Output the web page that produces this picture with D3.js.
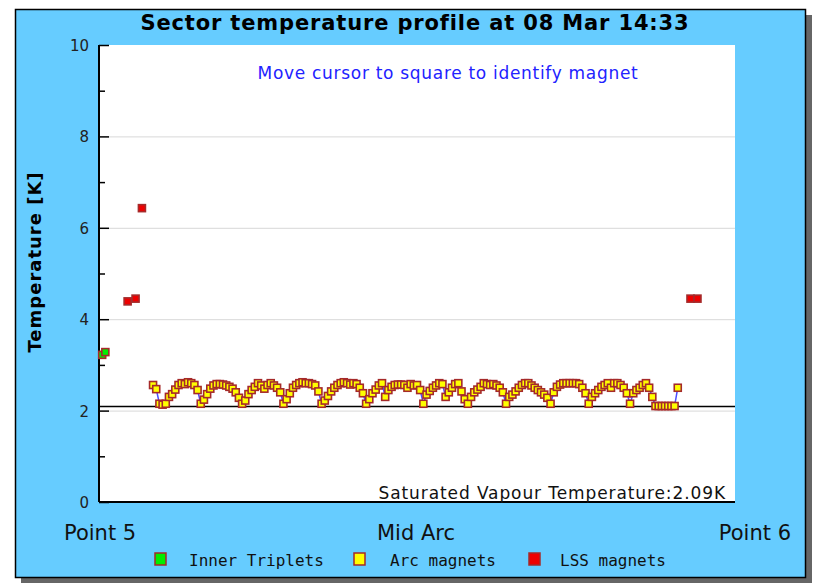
<!DOCTYPE html>
<html>
<head>
<meta charset="utf-8">
<script src="https://cdn.jsdelivr.net/npm/d3@7"></script>
<style>
body { margin: 0; background: #fff; }
</style>
</head>
<body>
<script>
// chart values
var title = 'Sector temperature profile at 08 Mar 14:33'
var y_ticks = [0, 2, 4, 6, 8, 10]
var sat_temp = 2.09
var x_labels = ['Point 5', 'Mid Arc', 'Point 6']
var legend_names = ['Inner Triplets', 'Arc magnets', 'LSS magnets']

// magnet slot positions along the sector and their temperatures [K]
var triplet_pos = [1, 2]
var triplet_temp = [3.22, 3.28]
var lss_pos = [9, 11.5, 13.5, 186, 188.2]
var lss_temp = [4.39, 4.45, 6.43, 4.45, 4.45]
var arc_first_slot = 17
var arc_temp = [
	2.56,2.47,2.15,2.13,2.15,2.3,2.36,2.46,2.56,2.6,2.58,2.62,2.6,2.56,2.45,2.15,
	2.24,2.36,2.48,2.55,2.58,2.58,2.57,2.55,2.52,2.48,2.4,2.28,2.15,
	2.22,2.36,2.45,2.52,2.6,2.55,2.48,2.56,2.6,2.55,2.5,2.4,2.15,
	2.25,2.38,2.5,2.56,2.6,2.62,2.6,2.6,2.58,2.55,2.42,2.15,
	2.22,2.32,2.42,2.5,2.56,2.6,2.62,2.6,2.57,2.6,2.58,2.5,2.38,2.15,
	2.25,2.38,2.46,2.55,2.6,2.3,2.45,2.52,2.56,2.57,2.57,2.56,2.5,2.58,2.55,2.56,2.45,2.15,
	2.35,2.43,2.5,2.55,2.6,2.58,2.3,2.4,2.5,2.58,2.6,2.42,2.25,2.15,
	2.3,2.4,2.46,2.52,2.6,2.58,2.56,2.58,2.55,2.5,2.4,2.15,
	2.3,2.35,2.42,2.5,2.56,2.6,2.6,2.55,2.5,2.45,2.4,2.35,2.28,2.15,
	2.4,2.52,2.57,2.6,2.6,2.6,2.6,2.6,2.58,2.5,2.38,2.15,
	2.3,2.38,2.45,2.52,2.56,2.6,2.5,2.6,2.6,2.56,2.5,2.38,2.15,
	2.38,2.45,2.5,2.56,2.6,2.5,2.3,2.1,2.1,2.1,2.1,2.1,2.1,2.1,2.5
]

var plot_left = 99, plot_right = 735, plot_top = 45, plot_bottom = 502
var marker = 7
var edge_col = '#a52a2a'
var sans = '"DejaVu Sans", sans-serif', mono = '"DejaVu Sans Mono", monospace'

function plot_it() {
	var svg = d3.select('body').append('svg').attr('width', 817).attr('height', 584)

	// frame with shadow
	svg.append('rect').attr('x', 21).attr('y', 15).attr('width', 791).attr('height', 568).attr('fill', '#666')
	svg.append('rect').attr('x', 15.5).attr('y', 9.5).attr('width', 790).attr('height', 568)
		.attr('fill', '#66ccff').attr('stroke', '#000').attr('stroke-width', 1.5)
	svg.append('rect').attr('x', plot_left).attr('y', plot_top)
		.attr('width', plot_right-plot_left).attr('height', plot_bottom-plot_top).attr('fill', '#fff')

	svg.append('text').text(title).attr('x', 415).attr('y', 30).attr('text-anchor', 'middle')
		.style('font-family', sans).style('font-weight', 'bold').style('font-size', '21px')
		.style('letter-spacing', '0.85px').attr('fill', '#000')

	var xScale = d3.scaleLinear().domain([0, 200]).range([plot_left, plot_right])
	var yScale = d3.scaleLinear().domain([0, 10]).range([plot_bottom, plot_top])

	// grid lines
	svg.append('g').selectAll('line').data(y_ticks.filter(d => d > 0 && d < 10)).enter().append('line')
		.attr('x1', plot_left+9).attr('x2', plot_right)
		.attr('y1', d => yScale(d)+0.5).attr('y2', d => yScale(d)+0.5)
		.attr('stroke', '#d8d8d8').attr('stroke-width', 1)

	// y axis with inward ticks
	var yaxis = svg.append('g').attr('transform', 'translate('+plot_left+',0)')
		.call(d3.axisRight(yScale).tickValues(y_ticks).tickSize(10).tickFormat(''))
	yaxis.select('.domain').remove()
	yaxis.selectAll('line').attr('stroke', '#000').attr('stroke-width', 1.5)
	svg.append('g').attr('transform', 'translate('+plot_left+',0)')
		.call(d3.axisRight(yScale).tickValues(d3.range(1, 10, 2)).tickSize(6).tickFormat(''))
		.call(g => g.select('.domain').remove())
		.selectAll('line').attr('stroke', '#000').attr('stroke-width', 1.5)
	svg.append('line').attr('x1', plot_left).attr('x2', plot_left).attr('y1', plot_top).attr('y2', plot_bottom)
		.attr('stroke', '#000').attr('stroke-width', 2)
	svg.append('line').attr('x1', plot_left).attr('x2', plot_right).attr('y1', plot_bottom).attr('y2', plot_bottom)
		.attr('stroke', '#000').attr('stroke-width', 2)

	svg.append('g').selectAll('text').data(y_ticks).enter().append('text')
		.text(d => d).attr('x', 89).attr('y', d => yScale(d)+6).attr('text-anchor', 'end')
		.style('font-family', sans).style('font-size', '15px').attr('fill', '#222')

	svg.append('text').text('Temperature [K]').attr('transform', 'translate(41,262) rotate(-90)')
		.attr('text-anchor', 'middle').style('font-family', sans).style('font-weight', 'bold')
		.style('font-size', '18px').style('letter-spacing', '1px').attr('fill', '#000')

	// saturated vapour temperature
	svg.append('line').attr('x1', plot_left).attr('x2', plot_right)
		.attr('y1', yScale(sat_temp)).attr('y2', yScale(sat_temp)).attr('stroke', '#000').attr('stroke-width', 1.5)
	svg.append('text').text('Saturated Vapour Temperature:' + sat_temp + 'K').attr('x', 726).attr('y', 499)
		.attr('text-anchor', 'end').style('font-family', sans).style('font-size', '17px')
		.style('letter-spacing', '0.9px').attr('fill', '#111')

	svg.append('text').text('Move cursor to square to identify magnet').attr('x', 448).attr('y', 79)
		.attr('text-anchor', 'middle').style('font-family', sans).style('font-size', '17px')
		.style('letter-spacing', '0.7px').attr('fill', '#2222ff')

	// arc line + markers
	var arc = arc_temp.map((t, i) => [arc_first_slot + i, t])
	var line = d3.line().x(d => xScale(d[0])).y(d => yScale(d[1]))
	svg.append('path').datum(arc).attr('d', line).attr('fill', 'none')
		.attr('stroke', '#4d4dff').attr('stroke-width', 1.5)

	function squares(pos, temp, col) {
		svg.append('g').selectAll('rect').data(pos).enter().append('rect')
			.attr('x', d => xScale(d) - marker/2).attr('y', (d, i) => yScale(temp[i]) - marker/2)
			.attr('width', marker).attr('height', marker)
			.attr('fill', col).attr('stroke', edge_col).attr('stroke-width', 1.6)
	}
	squares(arc.map(d => d[0]), arc_temp, '#ffff00')
	squares(triplet_pos, triplet_temp, '#00ee00')
	squares(lss_pos, lss_temp, '#ee0000')

	// x labels
	var xl_x = [64, 416, 791], xl_anchor = ['start', 'middle', 'end']
	svg.append('g').selectAll('text').data(x_labels).enter().append('text')
		.text(d => d).attr('x', (d, i) => xl_x[i]).attr('y', 540).attr('text-anchor', (d, i) => xl_anchor[i])
		.style('font-family', sans).style('font-size', '21px').attr('fill', '#111')

	// legend
	var leg_x = [155, 354, 529], leg_tx = [189, 390, 560], leg_col = ['#00ee00', '#ffff00', '#ee0000']
	var leg = svg.append('g').selectAll('g').data(legend_names).enter().append('g')
	leg.append('rect').attr('x', (d, i) => leg_x[i]).attr('y', 553).attr('width', 11).attr('height', 12)
		.attr('fill', (d, i) => leg_col[i]).attr('stroke', edge_col).attr('stroke-width', 1.5)
	leg.append('text').text(d => d).attr('x', (d, i) => leg_tx[i]).attr('y', 566)
		.style('font-family', mono).style('font-size', '16px').attr('fill', '#111')
}

plot_it()
</script>
</body>
</html>
